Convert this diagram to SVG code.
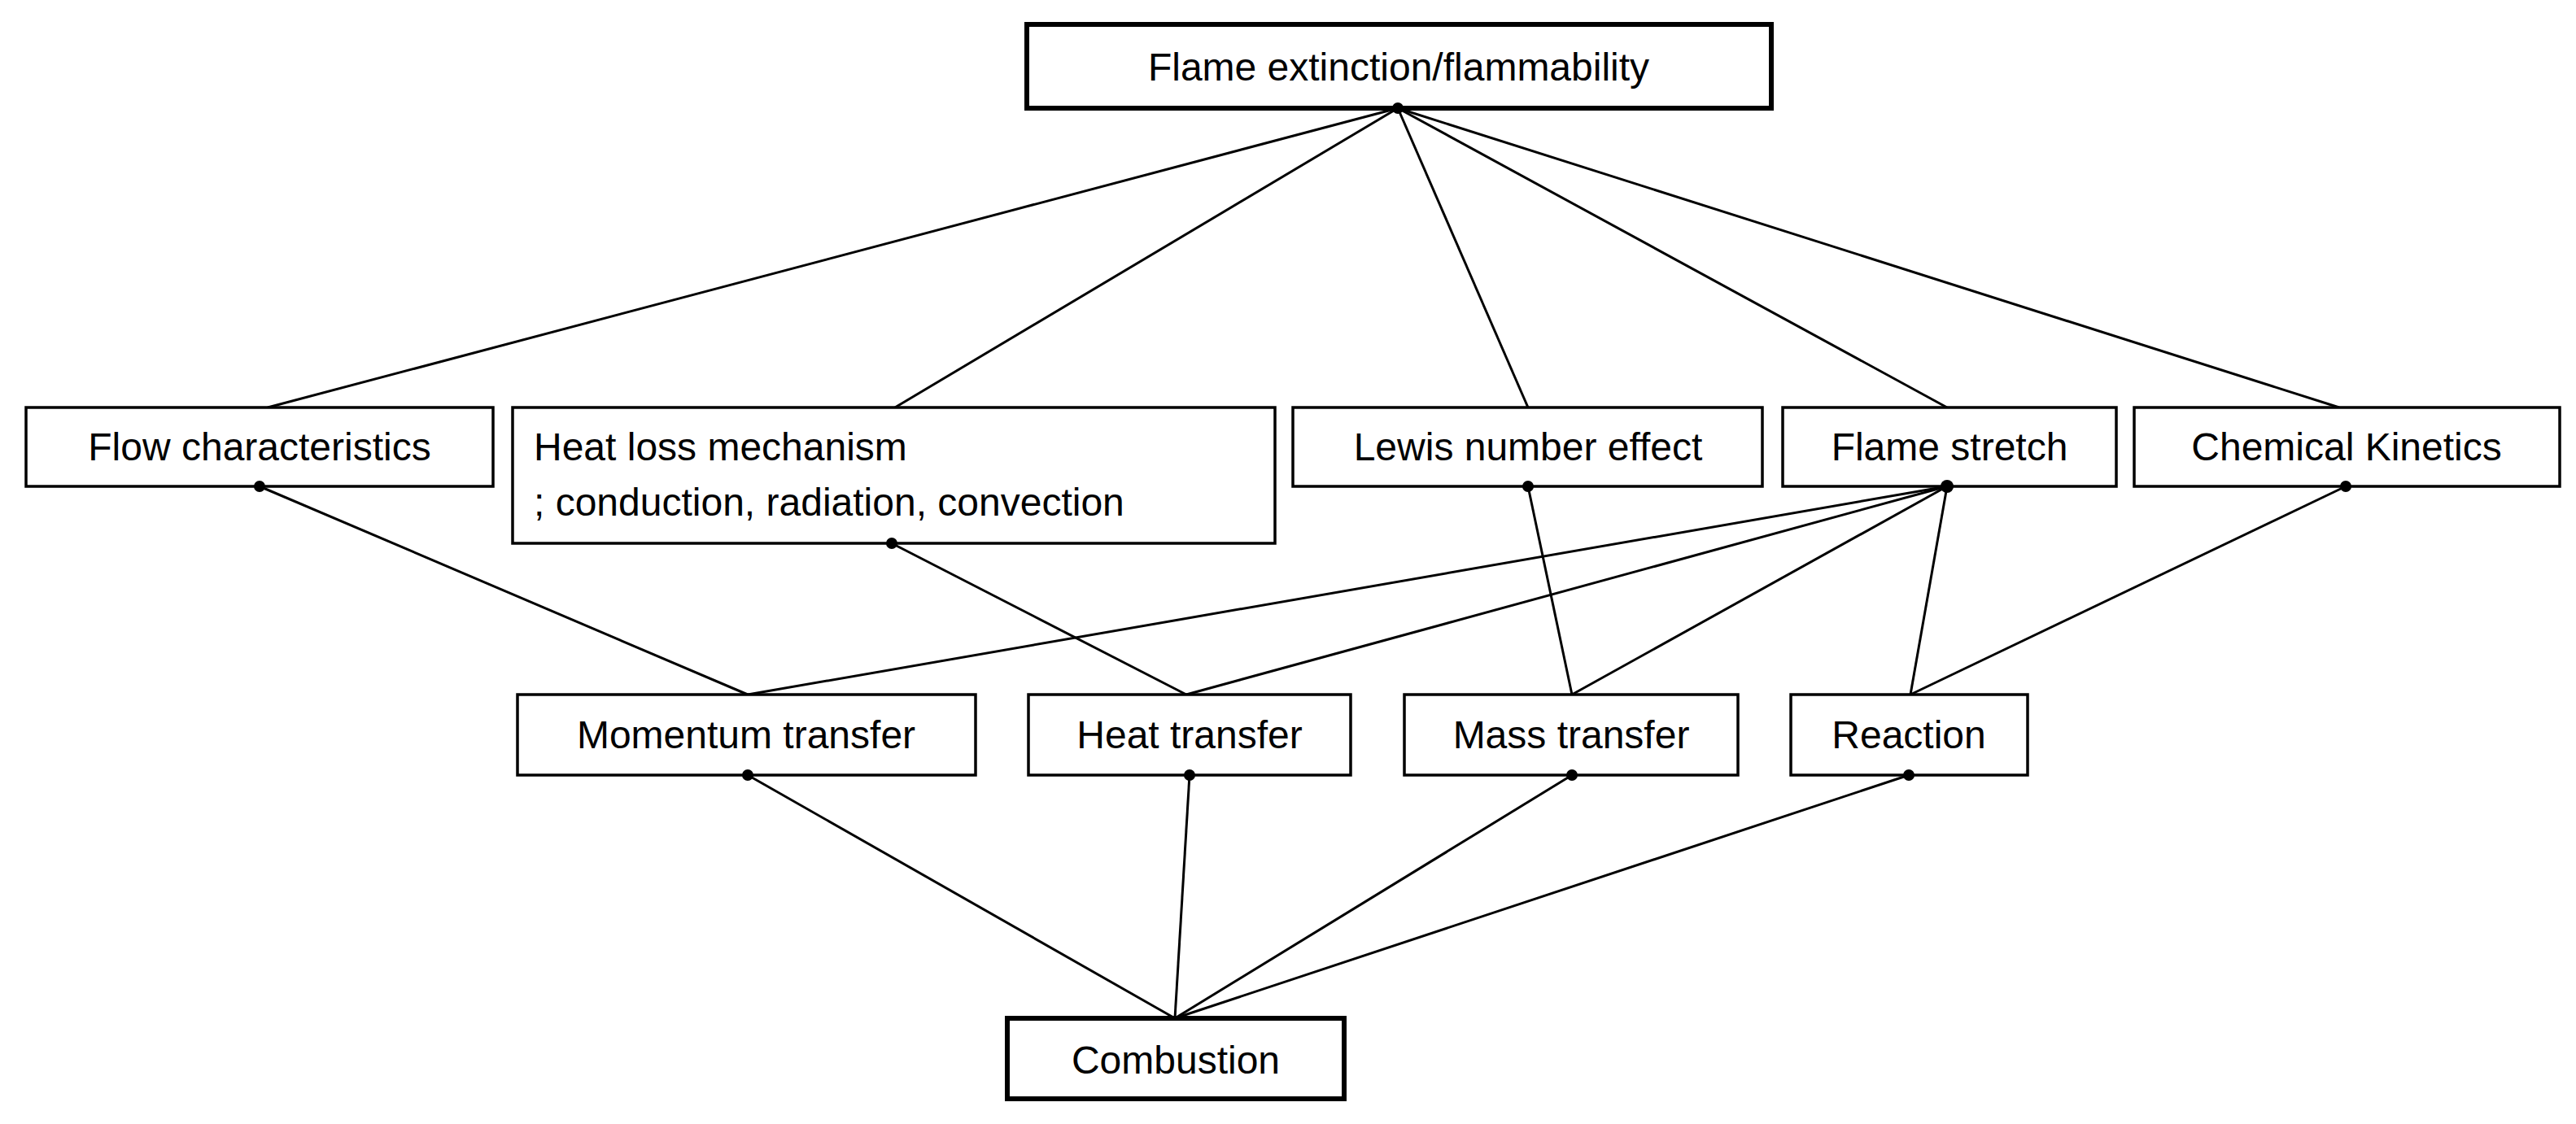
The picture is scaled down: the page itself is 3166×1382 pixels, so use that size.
<svg xmlns="http://www.w3.org/2000/svg" width="3166" height="1382" viewBox="0 0 3166 1382">
<style>
.b{fill:#fff;stroke:#000;stroke-width:3.5}
.k{fill:#fff;stroke:#000;stroke-width:6}
text{font-family:"Liberation Sans",Arial,sans-serif;font-size:48px;fill:#000}
.c line{stroke:#000;stroke-width:3}
.c circle{fill:#000}
</style>
<rect width="3166" height="1382" fill="#fff"/>
<g class="c" id="connectors">
<line x1="1718" y1="133" x2="329" y2="501"/>
<line x1="1718" y1="133" x2="1100" y2="501"/>
<line x1="1718" y1="133" x2="1878" y2="501"/>
<line x1="1718" y1="133" x2="2393" y2="501"/>
<line x1="1718" y1="133" x2="2875" y2="501"/>
<line x1="319" y1="598" x2="919" y2="854"/>
<line x1="1096" y1="668" x2="1458" y2="854"/>
<line x1="1878" y1="598" x2="1932" y2="854"/>
<line x1="2393" y1="598" x2="919" y2="854"/>
<line x1="2393" y1="598" x2="1458" y2="854"/>
<line x1="2393" y1="598" x2="1932" y2="854"/>
<line x1="2393" y1="598" x2="2348" y2="854"/>
<line x1="2883" y1="598" x2="2348" y2="854"/>
<line x1="919" y1="953" x2="1444" y2="1252"/>
<line x1="1462" y1="953" x2="1444" y2="1252"/>
<line x1="1932" y1="953" x2="1444" y2="1252"/>
<line x1="2346" y1="953" x2="1444" y2="1252"/>
</g>
<g id="n-top"><rect class="k" x="1262" y="30" width="915" height="103"/><text x="1719" y="99" text-anchor="middle" font-size="54">Flame extinction/flammability</text></g>
<g id="n-flow"><rect class="b" x="32" y="501" width="574" height="97"/><text x="319" y="566" text-anchor="middle">Flow characteristics</text></g>
<g id="n-heatloss"><rect class="b" x="630" y="501" width="937" height="167"/><text x="656" y="566">Heat loss mechanism</text><text x="656" y="634">; conduction, radiation, convection</text></g>
<g id="n-lewis"><rect class="b" x="1589" y="501" width="577" height="97"/><text x="1878" y="566" text-anchor="middle">Lewis number effect</text></g>
<g id="n-stretch"><rect class="b" x="2191" y="501" width="410" height="97"/><text x="2396" y="566" text-anchor="middle">Flame stretch</text></g>
<g id="n-chem"><rect class="b" x="2623" y="501" width="523" height="97"/><text x="2884" y="566" text-anchor="middle">Chemical Kinetics</text></g>
<g id="n-mom"><rect class="b" x="636" y="854" width="563" height="99"/><text x="917" y="920" text-anchor="middle">Momentum transfer</text></g>
<g id="n-heat"><rect class="b" x="1264" y="854" width="396" height="99"/><text x="1462" y="920" text-anchor="middle">Heat transfer</text></g>
<g id="n-mass"><rect class="b" x="1726" y="854" width="410" height="99"/><text x="1931" y="920" text-anchor="middle">Mass transfer</text></g>
<g id="n-react"><rect class="b" x="2201" y="854" width="291" height="99"/><text x="2346" y="920" text-anchor="middle">Reaction</text></g>
<g id="n-comb"><rect class="k" x="1238" y="1252" width="414" height="99"/><text x="1445" y="1320" text-anchor="middle" font-size="54">Combustion</text></g>
<g class="c" id="dots">
<circle cx="1718" cy="133" r="7"/><circle cx="319" cy="598" r="7"/><circle cx="1096" cy="668" r="7"/>
<circle cx="1878" cy="598" r="7"/><circle cx="2393" cy="598" r="8"/><circle cx="2883" cy="598" r="7"/>
<circle cx="919" cy="953" r="7"/><circle cx="1462" cy="953" r="7"/><circle cx="1932" cy="953" r="7"/><circle cx="2346" cy="953" r="7"/>
</g>
</svg>
